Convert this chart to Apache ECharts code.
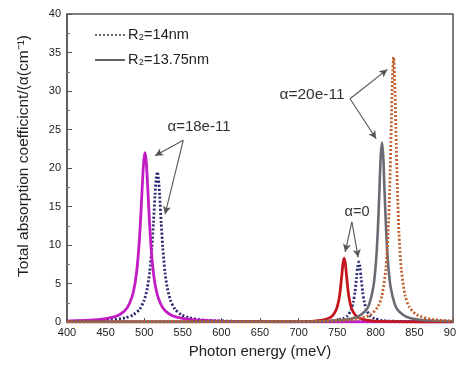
<!DOCTYPE html>
<html>
<head>
<meta charset="utf-8">
<script src="https://cdn.jsdelivr.net/npm/echarts@6/dist/echarts.min.js"></script>
<style>
  html, body { margin: 0; padding: 0; background: #fff; }
  #chart { width: 456px; height: 370px; }
</style>
</head>
<body>
<div id="chart"></div>
<script>
// Photon energy (meV) and total absorption coefficient (cm^-1) for each curve

// R2 = 14nm, alpha = 18e-11 (dotted)
const dot18E = [400, 456, 476, 486, 494, 500, 504, 507, 510, 512, 514, 515.5, 517, 518.5, 520, 522, 524, 527, 530, 534, 540, 548, 558, 578, 618, 700, 900];
const dot18A = [0.09, 0.25, 0.55, 0.95, 1.65, 2.83, 4.39, 6.42, 9.75, 12.9, 16.5, 18.6, 19.5, 18.6, 16.5, 12.9, 9.75, 6.42, 4.39, 2.83, 1.65, 0.95, 0.55, 0.25, 0.09, 0.03, 0.01];

// R2 = 13.75nm, alpha = 18e-11 (solid)
const sol18E = [400, 440, 460, 470, 478, 484, 488, 491, 494, 496, 498, 499.5, 501, 502.5, 504, 506, 508, 511, 514, 518, 524, 532, 542, 562, 600, 700, 900];
const sol18A = [0.1, 0.29, 0.62, 1.07, 1.86, 3.19, 4.94, 7.24, 11, 14.6, 18.6, 21.0, 22.0, 21.0, 18.6, 14.6, 11, 7.24, 4.94, 3.19, 1.86, 1.07, 0.62, 0.29, 0.11, 0.03, 0.01];

// R2 = 14nm, alpha = 0 (dotted)
const dot0E = [400, 678, 728, 748, 758, 763, 768, 771, 773, 775, 776.5, 778, 779.5, 781, 783, 785, 788, 793, 798, 808, 828, 878, 900];
const dot0A = [0.01, 0.02, 0.08, 0.21, 0.46, 0.78, 1.56, 2.64, 3.9, 5.73, 7.15, 7.8, 7.15, 5.73, 3.9, 2.64, 1.56, 0.78, 0.46, 0.21, 0.08, 0.02, 0.015];

// R2 = 13.75nm, alpha = 0 (solid)
const sol0E = [400, 659, 709, 729, 739, 744, 749, 752, 754, 756, 757.5, 759, 760.5, 762, 764, 766, 769, 774, 779, 789, 809, 859, 900];
const sol0A = [0.01, 0.02, 0.08, 0.22, 0.49, 0.83, 1.66, 2.8, 4.15, 6.1, 7.61, 8.3, 7.61, 6.1, 4.15, 2.8, 1.66, 0.83, 0.49, 0.22, 0.08, 0.02, 0.01];

// R2 = 13.75nm, alpha = 20e-11 (solid)
const sol20E = [400, 698, 753, 775, 786, 791.5, 797, 800.3, 802.5, 804.7, 806.3, 808, 809.7, 811.3, 813.5, 815.7, 819, 824.5, 830, 841, 863, 900];
const sol20A = [0.03, 0.06, 0.23, 0.63, 1.37, 2.33, 4.66, 7.88, 11.65, 17.1, 21.4, 23.3, 21.4, 17.1, 11.65, 7.88, 4.66, 2.33, 1.37, 0.63, 0.23, 0.1];

// R2 = 14nm, alpha = 20e-11 (dotted)
const dot20E = [400, 723, 773, 793, 803, 808, 813, 816, 818, 820, 821.5, 823, 824.5, 826, 828, 830, 833, 838, 843, 853, 873, 900];
const dot20A = [0.02, 0.09, 0.34, 0.93, 2.02, 3.44, 6.88, 11.6, 17.2, 25.3, 31.5, 34.4, 31.5, 25.3, 17.2, 11.6, 6.88, 3.44, 2.02, 0.93, 0.34, 0.14];

const xRange = [400, 900];
const yRange = [0, 40];

const zip = (xs, ys) => xs.map((x, i) => [x, ys[i]]);
const FONT = '"Liberation Sans", Arial, sans-serif';

function curve(name, xs, ys, color, dotted, width) {
  return {
    name: name,
    type: 'line',
    data: zip(xs, ys),
    showSymbol: false,
    smooth: 0.25,
    silent: true,
    lineStyle: {
      color: color,
      width: width,
      type: dotted ? [2, 2] : 'solid'
    },
    z: 2
  };
}

const arrowStyle = { color: '#555', width: 1.1, type: 'solid' };
const arrows = [
  [[550.6, 23.6], [514, 21.6]],
  [[550.6, 23.6], [527, 14.0]],
  [[766.6, 29.0], [815.0, 32.8]],
  [[766.6, 29.0], [800.5, 23.8]],
  [[769, 13.0], [760.3, 9.1]],
  [[769, 13.0], [777.2, 8.4]]
];

const chart = echarts.init(document.getElementById('chart'));
chart.setOption({
  animation: false,
  backgroundColor: '#fff',
  grid: {
    left: 67, right: 3, top: 14, bottom: 48,
    containLabel: false,
    outerBoundsMode: 'none',
    show: true, borderColor: '#555', borderWidth: 1.5, backgroundColor: 'transparent'
  },
  xAxis: {
    type: 'value',
    min: xRange[0], max: xRange[1], interval: 50,
    name: 'Photon energy (meV)',
    nameLocation: 'middle',
    nameGap: 22,
    nameTextStyle: { fontFamily: FONT, fontSize: 15, color: '#222' },
    axisLine: { show: true, lineStyle: { color: '#555', width: 1.5 } },
    axisTick: { show: true, inside: true, length: 4, lineStyle: { color: '#555' } },
    minorTick: { show: true, splitNumber: 2, length: 2, lineStyle: { color: '#777' } },
    axisLabel: { fontFamily: FONT, fontSize: 11, color: '#222', margin: 5, showMaxLabel: true, hideOverlap: false },
    splitLine: { show: false }
  },
  yAxis: {
    type: 'value',
    min: yRange[0], max: yRange[1], interval: 5,
    axisLine: { show: true, lineStyle: { color: '#555', width: 1.5 } },
    axisTick: { show: true, inside: true, length: 5, lineStyle: { color: '#555' } },
    minorTick: { show: true, splitNumber: 2, length: 3, lineStyle: { color: '#777' } },
    axisLabel: { fontFamily: FONT, fontSize: 11, color: '#222', margin: 6 },
    splitLine: { show: false }
  },
  series: [
    curve('R2=14nm alpha=18e-11', dot18E, dot18A, '#26266e', true, 2.8),
    curve('R2=13.75nm alpha=18e-11', sol18E, sol18A, '#c21cc4', false, 2.8),
    curve('R2=14nm alpha=0', dot0E, dot0A, '#2a2a7a', true, 2.8),
    curve('R2=13.75nm alpha=0', sol0E, sol0A, '#c4161e', false, 2.8),
    curve('R2=13.75nm alpha=20e-11', sol20E, sol20A, '#6a6a72', false, 2.6),
    curve('R2=14nm alpha=20e-11', dot20E, dot20A, '#c0602e', true, 2.8),
    {
      name: 'notes',
      type: 'line',
      data: [],
      silent: true,
      markLine: {
        silent: true,
        symbol: ['none', 'arrow'],
        symbolSize: [6, 8],
        label: { show: false },
        lineStyle: arrowStyle,
        data: arrows.map(a => [{ coord: a[0] }, { coord: a[1] }])
      }
    }
  ],
  graphic: [
    {
      type: 'text',
      x: 24, y: 156, rotation: Math.PI / 2,
      style: {
        text: 'Total absorption coefficicnt/(α(cm⁻¹)',
        font: '15.5px ' + FONT, fill: '#222',
        align: 'center', verticalAlign: 'middle'
      }
    },
    // legend
    { type: 'line', shape: { x1: 95, y1: 35, x2: 125, y2: 35 },
      style: { stroke: '#333', lineWidth: 1.5, lineDash: [2, 2] } },
    { type: 'text', x: 128, y: 35,
      style: { text: 'R₂=14nm', font: '14.5px ' + FONT, fill: '#222', verticalAlign: 'middle' } },
    { type: 'line', shape: { x1: 95, y1: 60, x2: 125, y2: 60 },
      style: { stroke: '#333', lineWidth: 1.5 } },
    { type: 'text', x: 128, y: 60,
      style: { text: 'R₂=13.75nm', font: '14.5px ' + FONT, fill: '#222', verticalAlign: 'middle' } },
    // peak notes
    { type: 'text', x: 199, y: 127,
      style: { text: 'α=18e-11', font: '15px ' + FONT, fill: '#333', align: 'center', verticalAlign: 'middle' } },
    { type: 'text', x: 312, y: 95,
      style: { text: 'α=20e-11', font: '15.5px ' + FONT, fill: '#333', align: 'center', verticalAlign: 'middle' } },
    { type: 'text', x: 357, y: 212,
      style: { text: 'α=0', font: '14.5px ' + FONT, fill: '#333', align: 'center', verticalAlign: 'middle' } }
  ]
});
</script>
</body>
</html>
